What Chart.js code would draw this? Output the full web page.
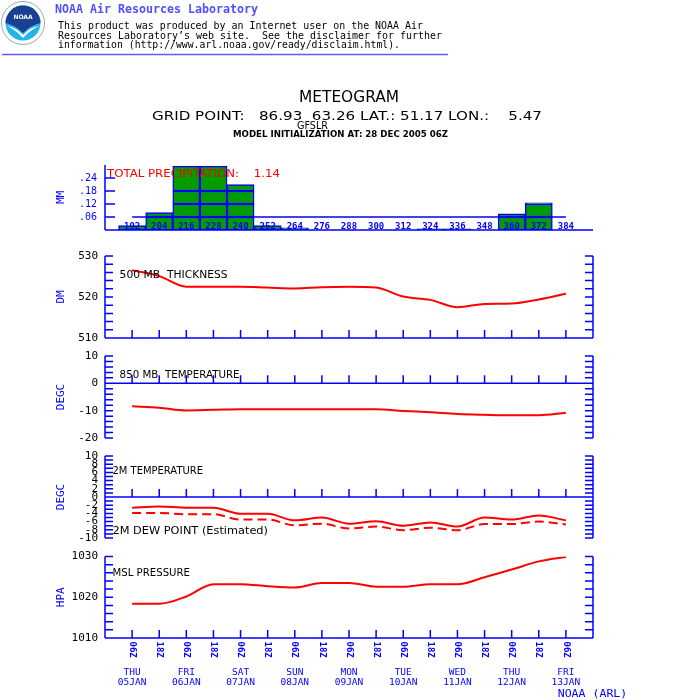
<!DOCTYPE html>
<html>
<head>
<meta charset="utf-8">
<script src="https://cdn.jsdelivr.net/npm/chart.js@4.4.1/dist/chart.umd.min.js"></script>
<style>
html, body { margin: 0; padding: 0; background: #fff; }
#page { position: relative; width: 700px; height: 700px; overflow: hidden; }
#page canvas { position: absolute; left: 0; top: 0; }
#overlay { position: absolute; left: 0; top: 0; pointer-events: none; }
#overlay text { white-space: pre; }
</style>
</head>
<body>
<div id="page">
  <canvas id="precipChart" width="700" height="700"></canvas>
  <canvas id="thickChart" width="700" height="700"></canvas>
  <canvas id="t850Chart" width="700" height="700"></canvas>
  <canvas id="t2mChart" width="700" height="700"></canvas>
  <canvas id="mslChart" width="700" height="700"></canvas>
  <svg id="overlay" width="700" height="700">
    <!-- NOAA logo -->
    <circle cx="23" cy="23" r="21.5" fill="#fff" stroke="#9aa" stroke-width="1"/>
    <circle cx="23" cy="23" r="17.5" fill="#23b4ea"/>
    <path d="M5.5 23 A17.5 17.5 0 0 1 40.5 23 Q31 25 23 33 Q15 25 5.5 23 Z" fill="#1b3f93"/>
    <path d="M7 26 Q16 27 23 35 Q30 27 39 26 Q30 30 23 38 Q16 30 7 26 Z" fill="#fff"/>
    <text x="23" y="19" font-family="DejaVu Sans" font-size="6" font-weight="bold" fill="#fff" text-anchor="middle">NOAA</text>

    <g font-family="DejaVu Sans Mono">
      <text x="55" y="12.5" font-size="12.5" font-weight="bold" fill="#4f4fff" textLength="203" lengthAdjust="spacingAndGlyphs">NOAA Air Resources Laboratory</text>
      <text x="58" y="29" font-size="10.5" fill="#000" textLength="365" lengthAdjust="spacingAndGlyphs">This product was produced by an Internet user on the NOAA Air</text>
      <text x="58" y="38.5" font-size="10.5" fill="#000" textLength="384" lengthAdjust="spacingAndGlyphs">Resources Laboratory’s web site.  See the disclaimer for further</text>
      <text x="58" y="48" font-size="10.5" fill="#000" textLength="342" lengthAdjust="spacingAndGlyphs">information (http://www.arl.noaa.gov/ready/disclaim.html).</text>
    </g>
    <line x1="2" y1="54.5" x2="448" y2="54.5" stroke="#5c5cff" stroke-width="1.5"/>

    <g font-family="DejaVu Sans" fill="#000">
      <text x="299" y="101.5" font-size="15" textLength="100" lengthAdjust="spacingAndGlyphs">METEOGRAM</text>
      <text x="152" y="120" font-size="11.5" textLength="390" lengthAdjust="spacingAndGlyphs">GRID POINT:   86.93  63.26 LAT.: 51.17 LON.:    5.47</text>
      <text x="297" y="128.5" font-size="10" textLength="31" lengthAdjust="spacingAndGlyphs">GFSLR</text>
      <text x="233" y="136.5" font-size="8.5" font-weight="bold" textLength="215" lengthAdjust="spacingAndGlyphs">MODEL INITIALIZATION AT: 28 DEC 2005 06Z</text>

      <text id="precipTitle" x="107" y="177.3" font-size="11" fill="#ff0000" textLength="173" lengthAdjust="spacingAndGlyphs">TOTAL PRECIPITATION:    1.14</text>
      <text x="119.6" y="277.5" font-size="10.5" textLength="108" lengthAdjust="spacingAndGlyphs">500 MB  THICKNESS</text>
      <text x="119.6" y="377.5" font-size="10.5" textLength="120" lengthAdjust="spacingAndGlyphs">850 MB  TEMPERATURE</text>
      <text x="112.5" y="473.5" font-size="10.5" textLength="90.5" lengthAdjust="spacingAndGlyphs">2M TEMPERATURE</text>
      <text x="112.5" y="533.5" font-size="10.5" textLength="155.5" lengthAdjust="spacingAndGlyphs">2M DEW POINT (Estimated)</text>
      <text x="112.5" y="576" font-size="10.5" textLength="77.5" lengthAdjust="spacingAndGlyphs">MSL PRESSURE</text>
    </g>
    <text x="557.7" y="696.5" font-family="DejaVu Sans Mono" font-size="11" fill="#0000ff" textLength="69.6" lengthAdjust="spacingAndGlyphs">NOAA (ARL)</text>
  </svg>
</div>
<script>
// forecast times (one every 12 h, starting 05 JAN 06Z)
const timeLabels = ['06Z', '18Z', '06Z', '18Z', '06Z', '18Z', '06Z', '18Z', '06Z',
                    '18Z', '06Z', '18Z', '06Z', '18Z', '06Z', '18Z', '06Z'];
const dayNames = ['THU', 'FRI', 'SAT', 'SUN', 'MON', 'TUE', 'WED', 'THU', 'FRI'];
const dayDates = ['05JAN', '06JAN', '07JAN', '08JAN', '09JAN', '10JAN', '11JAN', '12JAN', '13JAN'];

// precipitation per 12 h bin (forecast hour labels)
const precipHours = ['192', '204', '216', '228', '240', '252', '264', '276', '288',
                     '300', '312', '324', '336', '348', '360', '372', '384'];
const precipMM = [0.02, 0.08, 0.295, 0.295, 0.21, 0.02, 0.01, 0, 0,
                  0, 0, 0.005, 0.005, 0, 0.075, 0.125, 0];
const precipRefLine = 0.06;
const precipBands = [0, 0.06, 0.12, 0.18];

const thicknessDM = [526.5, 525.1, 522.5, 522.5, 522.5, 522.3, 522.1, 522.4, 522.5,
                     522.3, 520.1, 519.3, 517.5, 518.3, 518.4, 519.4, 520.8];
const temp850 = [-8.4, -8.9, -9.9, -9.7, -9.5, -9.5, -9.5, -9.5, -9.5,
                 -9.5, -10.1, -10.6, -11.2, -11.5, -11.7, -11.7, -10.8];
const temp2m = [-2.6, -2.3, -2.6, -2.6, -4.1, -4.1, -5.7, -5.0, -6.5,
                -5.9, -7.0, -6.2, -7.2, -5.0, -5.5, -4.5, -5.7];
const dewpt2m = [-3.9, -3.9, -4.2, -4.2, -5.5, -5.5, -6.9, -6.5, -7.7,
                 -7.2, -8.1, -7.5, -8.1, -6.6, -6.6, -6.0, -6.7];
const mslp = [1018.4, 1018.4, 1020.2, 1023.2, 1023.2, 1022.7, 1022.4, 1023.5, 1023.5,
              1022.6, 1022.6, 1023.2, 1023.2, 1024.9, 1026.8, 1028.8, 1029.9];

const BLUE = '#0000ff';
const RED = '#ff0000';
const GREEN = '#009c00';
const MONO = "'DejaVu Sans Mono', monospace";

Chart.defaults.font.family = MONO;

const total = precipMM.reduce((a, b) => a + b, 0);
document.getElementById('precipTitle').textContent = 'TOTAL PRECIPITATION:    ' + total.toFixed(2);

const pts = arr => arr.map((v, i) => ({ x: i, y: v }));

// GrADS style frame: axis lines, inward ticks, upward time ticks
function gradsFrame(cfg) {
  return {
    id: 'gradsFrame',
    afterDatasetsDraw(chart) {
      const { ctx, chartArea: a, scales } = chart;
      const x = scales.x, y = scales.y;
      const base = y.getPixelForValue(cfg.base);
      ctx.save();
      ctx.strokeStyle = BLUE;
      ctx.lineWidth = 1.5;
      ctx.beginPath();
      ctx.moveTo(a.left, a.top); ctx.lineTo(a.left, a.bottom);
      if (cfg.right) { ctx.moveTo(a.right, a.top); ctx.lineTo(a.right, a.bottom); }
      ctx.moveTo(a.left, base); ctx.lineTo(a.right, base);
      y.ticks.forEach(t => {
        if (t.value < cfg.tickMin || t.value > cfg.tickMax) return;
        const py = y.getPixelForValue(t.value);
        ctx.moveTo(a.left, py); ctx.lineTo(a.left + cfg.tickLen, py);
        if (cfg.right) { ctx.moveTo(a.right, py); ctx.lineTo(a.right - cfg.tickLen, py); }
      });
      if (cfg.xTicks) {
        timeLabels.forEach((_, i) => {
          const px = x.getPixelForValue(i);
          ctx.moveTo(px, base); ctx.lineTo(px, base - 8);
        });
      }
      ctx.stroke();
      ctx.fillStyle = BLUE;
      if (cfg.barLabels) {
        ctx.font = 'bold 9px ' + MONO;
        ctx.textAlign = 'center';
        ctx.textBaseline = 'alphabetic';
        precipHours.forEach((h, i) => ctx.fillText(h, x.getPixelForValue(i), base - 1.5));
      }
      if (cfg.timeText) {
        // hour labels turned a quarter clockwise, reading downwards
        ctx.font = 'bold 9px ' + MONO;
        ctx.textAlign = 'left';
        ctx.textBaseline = 'middle';
        timeLabels.forEach((t, i) => {
          ctx.save();
          ctx.translate(x.getPixelForValue(i), base + 3.5);
          ctx.rotate(Math.PI / 2);
          ctx.fillText(t, 0, 0);
          ctx.restore();
        });
      }
      ctx.restore();
    }
  };
}

function yAxis(min, max, step, title, labelOf, color) {
  return {
    min, max,
    afterFit: s => { s.width = 50; },
    border: { display: false },
    grid: { display: false, drawTicks: false },
    ticks: {
      stepSize: step, maxTicksLimit: 100, autoSkip: false, color, padding: 7,
      font: { size: 11 }, callback: labelOf
    },
    title: { display: true, text: title, color: BLUE, padding: 0, font: { size: 11 } }
  };
}

const hiddenX = { type: 'linear', min: -1, max: 17, display: false, offset: false };
const baseOptions = pad => ({
  responsive: false, animation: false, events: [],
  layout: { padding: pad },
  plugins: { legend: { display: false }, tooltip: { enabled: false } }
});
const redLine = (data, dash) => ({
  type: 'line', data: pts(data), borderColor: RED, borderWidth: 2, borderDash: dash || [],
  pointRadius: 0, cubicInterpolationMode: 'monotone', fill: false
});
const every = n => v => (Math.abs(v % n) < 1e-6 ? String(v) : '');

// precipitation bars, split into bands like the original drawing
const segDatasets = precipBands.map((lo, k) => {
  const hi = k < precipBands.length - 1 ? precipBands[k + 1] : Infinity;
  return {
    type: 'bar',
    data: precipMM.map((v, i) => {
      const s = Math.min(v, hi) - lo;
      return { x: i, y: s > 1e-9 ? s : null };
    }),
    backgroundColor: GREEN, borderColor: BLUE, borderWidth: 1.5, borderSkipped: false,
    barPercentage: 1, categoryPercentage: 1, stack: 'p', order: 1
  };
});

const precipOpts = baseOptions({ left: 55, right: 107, top: 165, bottom: 470 });
precipOpts.scales = {
  x: Object.assign({}, hiddenX, { stacked: true }),
  y: Object.assign(yAxis(0, 0.3, 0.06, 'MM',
    v => (v > 0.001 && v < 0.29 ? v.toFixed(2).slice(1) : ''), BLUE), { stacked: true })
};
precipOpts.scales.y.ticks.padding = 8;
precipOpts.scales.y.ticks.font = { size: 10 };

new Chart(document.getElementById('precipChart'), {
  type: 'bar',
  data: {
    datasets: segDatasets.concat([{
      type: 'line', data: precipHours.map((_, i) => ({ x: i, y: precipRefLine })),
      borderColor: BLUE, borderWidth: 1.5, pointRadius: 0, stack: 'ref', order: 0
    }])
  },
  options: precipOpts,
  plugins: [gradsFrame({ base: 0, tickLen: 10, tickMin: 0.001, tickMax: 0.29, barLabels: true })]
});

function linePanel(id, pad, y, datasets, frame, extraScales) {
  const opts = baseOptions(pad);
  opts.scales = Object.assign({ x: hiddenX, y }, extraScales || {});
  return new Chart(document.getElementById(id), {
    type: 'line', data: { datasets }, options: opts,
    plugins: [gradsFrame(Object.assign({ tickLen: 8, tickMin: -Infinity, tickMax: Infinity, right: true, xTicks: true }, frame))]
  });
}

linePanel('thickChart', { left: 55, right: 107, top: 256, bottom: 362 },
  yAxis(510, 530, 2, 'DM', every(10), '#000'), [redLine(thicknessDM)], { base: 510 });

linePanel('t850Chart', { left: 55, right: 107, top: 356, bottom: 262 },
  yAxis(-20, 10, 2, 'DEGC', every(10), '#000'), [redLine(temp850)], { base: 0 });

linePanel('t2mChart', { left: 55, right: 107, top: 456, bottom: 162 },
  yAxis(-10, 10, 1, 'DEGC', every(2), '#000'),
  [redLine(temp2m), redLine(dewpt2m, [9, 5])], { base: 0 });

linePanel('mslChart', { left: 55, right: 107, top: 556.5, bottom: 0 },
  yAxis(1010, 1030, 2, 'HPA', every(10), '#000'), [redLine(mslp)], { base: 1010, timeText: true },
  {
    x: {
      type: 'linear', min: -1, max: 17, offset: false,
      afterFit: s => { s.height = 24; },
      border: { display: false },
      grid: { display: false, drawTicks: false },
      ticks: { display: false, stepSize: 1, maxTicksLimit: 100 }
    },
    xd: {
      type: 'linear', position: 'bottom', weight: 1, min: -1, max: 17, offset: false,
      afterFit: s => { s.height = 38; },
      border: { display: false },
      grid: { display: false, drawTicks: false },
      ticks: {
        stepSize: 1, maxTicksLimit: 100, autoSkip: false, minRotation: 0, maxRotation: 0,
        padding: 5, color: BLUE, font: { size: 9.5, lineHeight: 1.1 },
        callback: v => (v >= 0 && v % 2 === 0 && v / 2 < dayNames.length ? [dayNames[v / 2], dayDates[v / 2]] : '')
      }
    }
  });
</script>
</body>
</html>
